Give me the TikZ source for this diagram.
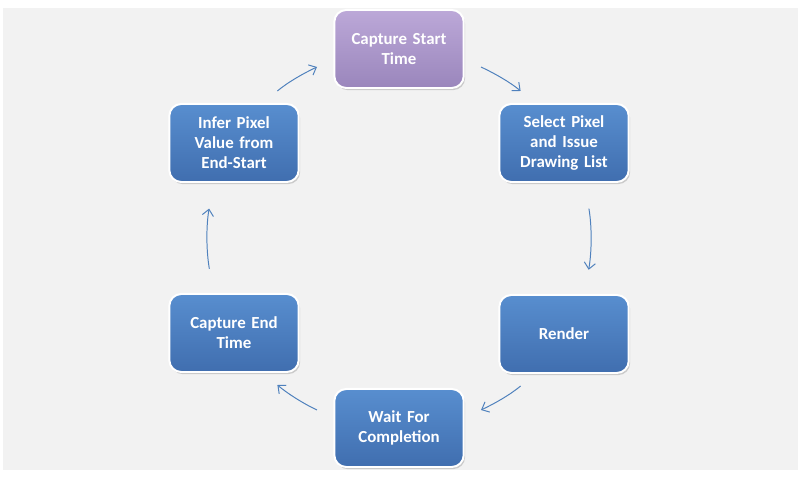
\documentclass[tikz,border=0pt]{standalone}
\usepackage{fontspec}
\setmainfont{Carlito}
\usetikzlibrary{arrows.meta,shadows}
\definecolor{boxblue}{RGB}{88,142,207}
\definecolor{boxbluedark}{RGB}{64,110,175}
\definecolor{boxpurple}{RGB}{188,168,216}
\definecolor{boxpurpledark}{RGB}{154,134,188}
\definecolor{flowblue}{RGB}{79,129,189}
\definecolor{panel}{RGB}{242,242,242}
\begin{document}
\begin{tikzpicture}[x=0.025cm, y=0.025cm,
  stepbox/.style={rectangle, rounded corners=0.3cm, draw=white, line width=1.4pt,
    top color=boxblue, middle color=boxblue, bottom color=boxbluedark,
    minimum width=3.125cm, minimum height=1.95cm, text width=3cm, align=center,
    text=white, font=\fontsize{12}{14.2}\selectfont\bfseries,
    drop shadow={shadow xshift=1pt, shadow yshift=-1.5pt, opacity=0.35}},
  startbox/.style={stepbox, top color=boxpurple, middle color=boxpurple, bottom color=boxpurpledark},
  flow/.style={draw=flowblue, line width=0.7pt, -{Straight Barb[length=4.5pt,width=8pt]}}]
\useasboundingbox (0,0) rectangle (800,490);
\fill [panel] (3,20) rectangle (798,482);
% the six steps, clockwise from the top
\node [startbox] (start) at (399,441) {Capture Start\\Time};
\node [stepbox] (select) at (564,347) {Select Pixel\\and Issue\\Drawing List};
\node [stepbox] (render) at (564,156) {Render};
\node [stepbox] (wait) at (399,62) {Wait For\\Completion};
\node [stepbox] (capend) at (234,157) {Capture End\\Time};
\node [stepbox] (infer) at (234,347) {Infer Pixel\\Value from\\End-Start};
% the loop
\draw [flow, shorten <=12.8pt, shorten >=13.3pt] (start.-9) to [out=-25, in=140] (select.126);
\draw [flow, shorten <=18.5pt, shorten >=17.5pt] (select.-63) to [out=-80, in=80] (render.63);
\draw [flow, shorten <=13.3pt, shorten >=12.8pt] (render.-126) to [out=-140, in=25] (wait.9);
\draw [flow, shorten <=12.8pt, shorten >=13.3pt] (wait.171) to [out=155, in=-40] (capend.-54);
\draw [flow, shorten <=17.5pt, shorten >=18.5pt] (capend.117) to [out=100, in=-100] (infer.-117);
\draw [flow, shorten <=13.3pt, shorten >=12.8pt] (infer.54) to [out=40, in=-155] (start.189);
\end{tikzpicture}
\end{document}
